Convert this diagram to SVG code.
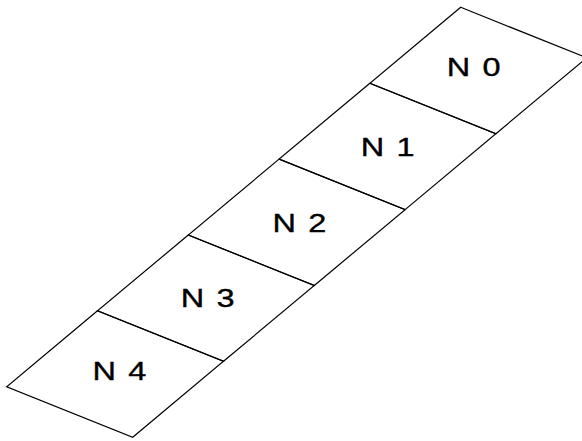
<svg xmlns="http://www.w3.org/2000/svg" width="582" height="441" viewBox="0 0 582 441">
<style>
.cell{fill:none;stroke:#000;stroke-width:1.2;stroke-linejoin:miter}
.lbl{font-family:"Liberation Sans",Arial,sans-serif;font-size:25px;fill:#000;stroke:#000;stroke-width:0.35}
</style>
<rect width="582" height="441" fill="#fff"/>
<g id="connectors"></g>
<g id="N0"><polygon class="cell" points="460.7,7.3 586.7,57.8 495.9,133.7 369.9,83.2"/><text class="lbl" transform="translate(446.8,76) scale(1.3,1)">N<tspan dx="9.5">0</tspan></text></g>
<g id="N1"><polygon class="cell" points="369.9,83.2 495.9,133.7 405.1,209.6 279.1,159.1"/><text class="lbl" transform="translate(360.8,156) scale(1.3,1)">N<tspan dx="9.5">1</tspan></text></g>
<g id="N2"><polygon class="cell" points="279.1,159.1 405.1,209.6 314.3,285.5 188.3,235.0"/><text class="lbl" transform="translate(272.5,232.3) scale(1.3,1)">N<tspan dx="9.5">2</tspan></text></g>
<g id="N3"><polygon class="cell" points="188.3,235.0 314.3,285.5 223.5,361.3 97.5,310.8"/><text class="lbl" transform="translate(180.8,306.7) scale(1.3,1)">N<tspan dx="9.5">3</tspan></text></g>
<g id="N4"><polygon class="cell" points="97.5,310.8 223.5,361.3 132.7,437.2 6.7,386.7"/><text class="lbl" transform="translate(92.5,380) scale(1.3,1)">N<tspan dx="9.5">4</tspan></text></g>
</svg>
